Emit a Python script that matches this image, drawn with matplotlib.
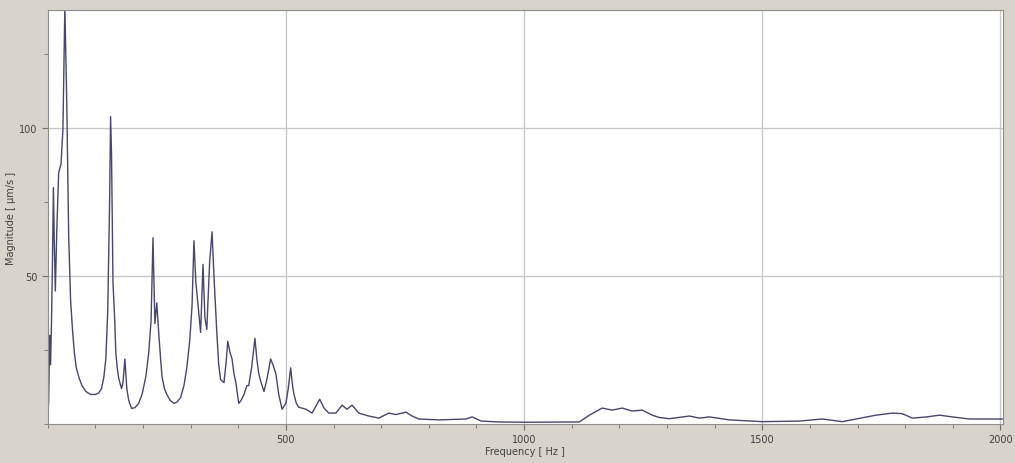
import matplotlib.pyplot as plt
from matplotlib.ticker import MultipleLocator

# spectrum
freq_hz = [0, 2, 4, 6, 8, 10, 12, 14, 16, 19, 23, 28, 32, 36, 40, 44, 48, 52, 56, 60,
           66, 72, 80, 90, 100, 107, 113, 118, 122, 126, 130, 132, 134, 137, 141, 143,
           146, 149, 155, 158, 162, 166, 170, 176, 183, 191, 198, 206, 212, 217, 221, 225,
           229, 233, 237, 240, 245, 250, 257, 265, 272, 279, 286, 292, 298, 303, 307, 311,
           317, 321, 326, 330, 334, 340, 345, 349, 355, 359, 363, 370, 374, 378, 383, 387,
           391, 395, 401, 406, 412, 418, 422, 428, 435, 439, 443, 448, 454, 460, 468, 473,
           479, 485, 492, 500, 505, 510, 514, 517, 522, 527, 542, 555, 571, 580, 590, 605,
           618, 628, 639, 653, 674, 695, 716, 731, 752, 765, 779, 821, 878, 891, 910, 947,
           1004, 1116, 1137, 1164, 1185, 1206, 1227, 1248, 1269, 1284, 1305, 1347, 1368,
           1389, 1431, 1500, 1578, 1626, 1668, 1697, 1739, 1773, 1794, 1815, 1845, 1872,
           1899, 1935, 2004]
magnitude = [1, 8, 30, 20, 35, 55, 80, 60, 45, 65, 85, 88, 100, 141, 109, 64, 42, 32, 24, 19,
             15.5, 13, 11, 10, 10, 10.5, 12, 16, 22, 38, 76, 104, 91, 48, 34, 24,
             19, 15.5, 12, 14, 22, 12, 8, 5.3, 5.5, 7, 10, 16, 24, 35, 63, 34,
             41, 31, 22, 16, 12, 10, 8, 7, 7.5, 9, 13, 19, 28, 40, 62, 48,
             38, 31, 54, 36, 32, 55, 65, 50, 31, 20, 15, 14, 20, 28, 24, 22,
             17, 14, 7, 8, 10, 13, 13, 19, 29, 22, 17, 14, 11, 15, 22, 20,
             17, 10, 5, 7, 12, 19, 13, 10, 7, 5.7, 5, 3.7, 8.4, 5.4, 3.7, 3.7,
             6.4, 5, 6.4, 3.7, 2.7, 2, 3.7, 3.2, 4, 2.7, 1.7, 1.4, 1.7, 2.4, 1, 0.7,
             0.6, 0.7, 3, 5.4, 4.7, 5.4, 4.4, 4.7, 3, 2.2, 1.8, 2.7, 2,
             2.4, 1.4, 0.8, 1, 1.7, 0.8, 1.7, 3, 3.7, 3.5, 2, 2.4, 3,
             2.4, 1.7, 1.7]

x_ticks = [500, 1000, 1500, 2000]
y_ticks = [50, 100]

fig = plt.figure(figsize=(10.15, 4.64), dpi=100, facecolor='#d8d4cc')
ax = fig.add_axes([0.047, 0.084, 0.941, 0.892])
ax.set_facecolor('white')

ax.plot(freq_hz, magnitude, color='#46466e', linewidth=1.0)

ax.set_xlim(0, 2005)
ax.set_ylim(0, 140)
ax.set_xticks(x_ticks)
ax.set_yticks(y_ticks)
ax.xaxis.set_minor_locator(MultipleLocator(100))
ax.yaxis.set_minor_locator(MultipleLocator(25))
ax.tick_params(which='both', direction='out', colors='#707070', labelsize=7,
               labelcolor='#404040')
ax.tick_params(which='major', length=4)
ax.tick_params(which='minor', length=3)
ax.grid(True, which='major', color='#c8c8c8', linewidth=1)
ax.set_axisbelow(True)
for spine in ax.spines.values():
    spine.set_color('#8c8c8c')

ax.set_xlabel('Frequency [ Hz ]', fontsize=7, color='#404040', labelpad=1)
ax.set_ylabel('Magnitude [ µm/s ]', fontsize=7, color='#404040', labelpad=2)

fig.savefig('out.png', dpi=100, facecolor=fig.get_facecolor())
